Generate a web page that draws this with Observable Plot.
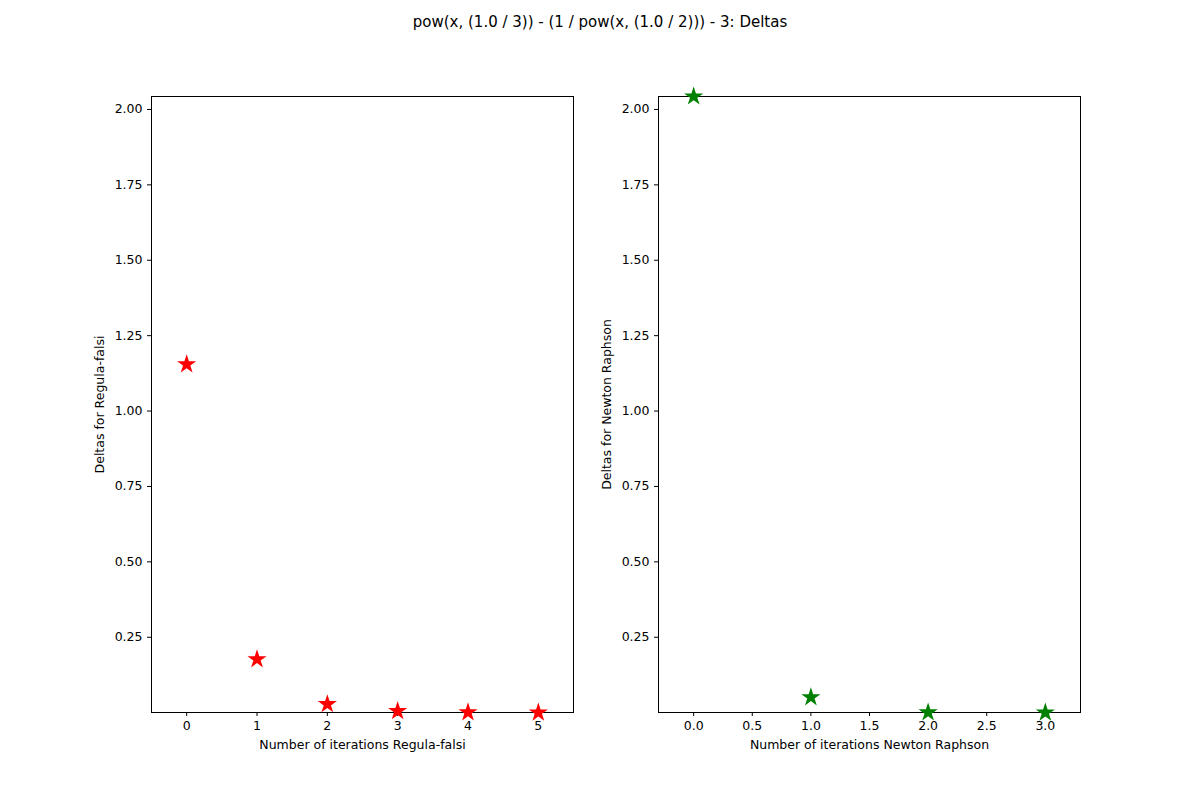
<!DOCTYPE html>
<html>
<head>
<meta charset="utf-8">
<script src="https://cdn.jsdelivr.net/npm/d3@7"></script>
<script src="https://cdn.jsdelivr.net/npm/@observablehq/plot@0.6"></script>
<style>
  body { margin: 0; background: #fff; font-family: "DejaVu Sans", sans-serif; }
  #page { position: relative; width: 1200px; height: 800px; }
  #title { position: absolute; top: 13px; left: 0; width: 1200px; text-align: center; font-size: 15px; }
  .panel { position: absolute; top: 0; }
</style>
</head>
<body>
<div id="page">
  <div id="title">pow(x, (1.0 / 3)) - (1 / pow(x, (1.0 / 2))) - 3: Deltas</div>
  <div id="left" class="panel" style="left:0"></div>
  <div id="right" class="panel" style="left:600px"></div>
</div>
<script>
// Regula-falsi deltas per iteration
const rfIter = [0, 1, 2, 3, 4, 5];
const rfDelta = [1.155, 0.177, 0.028, 0.005, 0.001, 0.0002];
// Newton Raphson deltas per iteration
const nrIter = [0, 1, 2, 3];
const nrDelta = [2.043, 0.051, 0.0006, 0.00001];

const yTicks = [0.25, 0.5, 0.75, 1.0, 1.25, 1.5, 1.75, 2.0];

function panel(iters, deltas, opts) {
  const data = iters.map((x, i) => ({x, y: deltas[i]}));
  return Plot.plot({
    width: 600,
    height: 800,
    marginTop: 96,
    marginBottom: 88,
    marginLeft: opts.ml,
    marginRight: opts.mr,
    style: {fontFamily: "DejaVu Sans, sans-serif", fontSize: "12.5px", color: "#000"},
    x: {
      domain: opts.xDomain,
      ticks: opts.xTicks,
      tickFormat: opts.xFormat,
      tickSize: 4,
      label: opts.xLabel,
      labelAnchor: "center",
      labelArrow: "none",
      labelOffset: 36
    },
    y: {
      domain: [0.0005, 2.043],
      ticks: yTicks,
      tickFormat: d => d.toFixed(2),
      tickSize: 4,
      label: opts.yLabel,
      labelAnchor: "center",
      labelArrow: "none",
      labelOffset: 56
    },
    marks: [
      Plot.frame({stroke: "#000"}),
      Plot.dot(data, {x: "x", y: "y", symbol: "star", r: 6, fill: opts.color, stroke: "none", clip: false})
    ]
  });
}

document.getElementById("left").appendChild(panel(rfIter, rfDelta, {
  ml: 151, mr: 27,
  xDomain: [-0.5, 5.5], xTicks: [0, 1, 2, 3, 4, 5], xFormat: d => String(d),
  xLabel: "Number of iterations Regula-falsi",
  yLabel: "Deltas for Regula-falsi",
  color: "red"
}));

document.getElementById("right").appendChild(panel(nrIter, nrDelta, {
  ml: 58, mr: 120,
  xDomain: [-0.3, 3.3], xTicks: [0, 0.5, 1, 1.5, 2, 2.5, 3], xFormat: d => d.toFixed(1),
  xLabel: "Number of iterations Newton Raphson",
  yLabel: "Deltas for Newton Raphson",
  color: "green"
}));
</script>
</body>
</html>
